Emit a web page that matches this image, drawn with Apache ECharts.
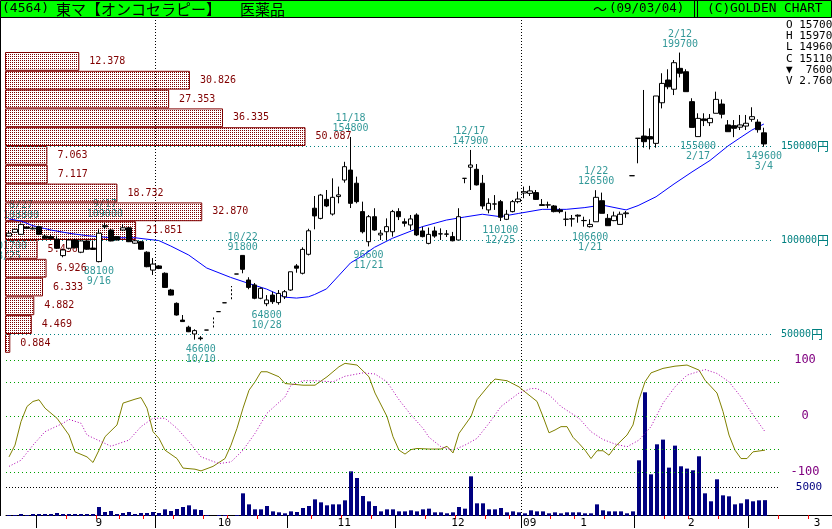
<!DOCTYPE html>
<html>
<head>
<meta charset="utf-8">
<script src="https://cdn.jsdelivr.net/npm/echarts@6/dist/echarts.min.js"></script>
<style>
  html, body { margin: 0; padding: 0; background: #fff; }
  #chart { width: 832px; height: 529px; }
</style>
</head>
<body>
<div id="chart"></div>
<script>
// ---- trading days (Tokyo, Mothers) ----
const dates = [
  '2008-08-25','2008-08-26','2008-08-27','2008-08-28','2008-08-29',
  '2008-09-01','2008-09-02','2008-09-03','2008-09-04','2008-09-05','2008-09-08','2008-09-09','2008-09-10','2008-09-11','2008-09-12',
  '2008-09-16','2008-09-17','2008-09-18','2008-09-19','2008-09-22','2008-09-24','2008-09-25','2008-09-26','2008-09-29','2008-09-30',
  '2008-10-01','2008-10-02','2008-10-03','2008-10-06','2008-10-07','2008-10-08','2008-10-09','2008-10-10','2008-10-14','2008-10-15',
  '2008-10-16','2008-10-17','2008-10-20','2008-10-21','2008-10-22','2008-10-23','2008-10-24','2008-10-27','2008-10-28','2008-10-29',
  '2008-10-30','2008-10-31',
  '2008-11-04','2008-11-05','2008-11-06','2008-11-07','2008-11-10','2008-11-11','2008-11-12','2008-11-13','2008-11-14','2008-11-17',
  '2008-11-18','2008-11-19','2008-11-20','2008-11-21','2008-11-25','2008-11-26','2008-11-27','2008-11-28',
  '2008-12-01','2008-12-02','2008-12-03','2008-12-04','2008-12-05','2008-12-08','2008-12-09','2008-12-10','2008-12-11','2008-12-12',
  '2008-12-15','2008-12-16','2008-12-17','2008-12-18','2008-12-19','2008-12-22','2008-12-24','2008-12-25','2008-12-26','2008-12-29',
  '2008-12-30',
  '2009-01-05','2009-01-06','2009-01-07','2009-01-08','2009-01-09','2009-01-13','2009-01-14','2009-01-15','2009-01-16','2009-01-19',
  '2009-01-20','2009-01-21','2009-01-22','2009-01-23','2009-01-26','2009-01-27','2009-01-28','2009-01-29','2009-01-30',
  '2009-02-02','2009-02-03','2009-02-04','2009-02-05','2009-02-06','2009-02-09','2009-02-10','2009-02-12','2009-02-13','2009-02-16',
  '2009-02-17','2009-02-18','2009-02-19','2009-02-20','2009-02-23','2009-02-24','2009-02-25','2009-02-26','2009-02-27',
  '2009-03-02','2009-03-03','2009-03-04'
];
// empty days kept on the time axis after the last session
const futureDates = ['2009-03-05','2009-03-06','2009-03-09','2009-03-10','2009-03-11','2009-03-12','2009-03-13',
  '2009-03-16','2009-03-17','2009-03-18','2009-03-19'];

// ---- daily prices (yen); null = no trade, only a quote ----
const open = [102100,104100,103000,106900,105900,107100,102100,101800,100400,91700,
  95600,100000,93500,99500,95700,88500,107600,105300,101800,105300,
  106500,98300,99100,93500,84000,86200,82300,73400,66300,57400,
  53600,50000,47900,52100,null,61900,66600,null,81900,91800,
  78700,76100,69000,66100,70700,66700,69800,73400,86200,82300,
  92400,116900,111500,121600,113800,123100,131900,137200,130200,115100,
  99100,112400,102700,104400,104400,115100,109700,108000,113300,104800,
  98200,104800,103200,103200,101800,100000,132800,138700,137600,130200,
  116000,119100,120400,111000,115100,120400,125000,124800,125200,118800,
  118600,118100,116000,111000,111200,113200,110300,107100,109700,120900,
  111500,110300,108300,114000,134200,154100,155300,155000,151400,173000,
  185100,180200,191300,189500,173600,155000,164400,162400,167400,172300,
  161200,160800,160000,160600,164200,162700,157000];
const high = [104800,105900,108800,107400,107000,107600,103100,102900,102300,95400,
  100500,100600,100000,99900,99800,105700,109000,105800,102000,108300,
  107000,100000,99500,94000,90400,86600,82800,74000,66800,60100,
  54400,52500,48900,52100,null,61900,66600,null,81900,91800,
  80200,77100,74800,70700,72500,73400,73400,83100,87200,96100,
  106000,123400,124500,126600,132800,128400,141600,154800,133700,120400,
  113300,116900,105300,111500,116000,116900,111500,113300,114200,107100,
  106600,107100,106200,105300,104300,116900,132800,147900,140400,134600,
  122200,123900,121300,116000,121300,125700,128400,128800,126600,121800,
  120400,118600,116900,115100,113300,113600,112400,111000,126500,125200,
  113800,115100,115100,115400,134200,154100,179800,159400,176600,188700,
  190800,195700,199700,190800,175400,167400,167400,167000,178900,174800,
  163800,163800,166500,166500,170600,164200,159700];
const low = [101700,103900,102800,105800,105600,102600,100600,100500,95200,90800,
  95000,95500,93000,94800,94700,88100,105800,99300,99800,104800,
  98900,98000,94800,85500,81400,84500,74600,70500,59800,56400,
  51000,47000,46600,52100,null,61900,66600,null,81900,82300,
  73800,68500,68500,64800,66000,65600,68600,73000,82600,81700,
  91800,105700,111000,117500,113000,119500,130500,117000,119500,103500,
  96600,104900,100000,100000,101800,110600,107100,105300,102100,101400,
  97700,101200,100000,101600,99300,100000,130200,126600,129000,116400,
  114200,116000,110100,110600,114700,119500,122200,123400,121300,118100,
  116900,114700,114200,107400,107100,109200,107100,106600,109700,114200,
  107600,110000,108300,111800,134200,140800,149100,148200,149100,170000,
  180200,177100,186500,178900,159900,155000,160600,160600,167400,164700,
  157600,154700,158500,158500,162900,157100,149600];
const close = [103600,105700,108300,106200,106300,103000,100900,100700,95600,94700,
  100000,95900,99500,95100,95000,103600,107000,99500,100000,106500,
  99100,99600,95100,85800,87200,84900,74800,70700,60100,56600,
  51200,51800,47500,52100,null,61900,66600,null,81900,84400,
  74800,69000,74300,68100,67200,71600,72500,83100,85000,95000,
  104900,112800,123900,118100,122700,124000,139000,119500,120400,104400,
  112400,105300,103600,107100,115100,112400,108900,111200,102700,101800,
  103000,102100,103300,103100,99600,112400,132800,139900,129300,118100,
  119500,119200,112100,113700,120400,121800,125700,126100,121600,118400,
  118700,115100,115100,111100,111300,112700,110400,108300,122700,114200,
  107600,112800,113700,114400,134200,154100,152300,153700,176600,183300,
  181500,194300,188700,178900,159900,164700,163500,164700,174800,166900,
  157600,159400,161200,162100,165600,158700,151100];
// quote-only sessions: [date, lowest quote, highest quote]
const quoteOnly = [['2008-10-15', 53500, 59500], ['2008-10-20', 68500, 75500]];

// ---- daily volume (shares) ----
const volume = [170,170,350,170,350,350,350,350,520,350,
  350,350,350,350,350,1570,700,870,350,520,
  700,350,520,520,700,520,1160,870,1220,1570,
  1860,1160,1050,170,0,170,170,0,170,3950,
  2030,1160,1160,1740,810,640,470,810,700,1390,
  1740,2900,2380,1860,2030,2030,2730,7780,6620,3480,
  2550,1740,810,1160,1160,810,810,990,810,1160,
  1280,640,640,470,640,1570,1280,6910,2210,2210,
  1160,1160,1390,640,810,640,470,990,810,810,
  470,640,470,640,640,640,470,470,2030,990,
  810,810,810,470,810,9700,21550,7260,12490,13310,
  8430,12260,8660,8260,7960,10400,3950,2560,6390,3600,
  3430,2030,2210,2910,2560,2730,2760];

// ---- moving average, read as [day index, yen] ----
const maLine = [[0,111200],[2,110100],[4,107600],[7,105300],[10,103600],[13,102300],[17,101200],[21,101200],
  [25,99700],[27,96800],[30,92000],[33,85100],[37,80100],[40,76900],[43,73900],[46,69600],[48,69100],
  [50,69800],[51,71000],[53,74000],[55,80900],[57,87800],[59,91600],[61,96100],[64,100900],[69,107100],
  [73,110600],[76,112200],[79,113700],[82,112400],[85,114100],[89,116300],[93,116300],[96,117200],
  [99,118600],[103,116000],[105,118300],[108,123000],[111,129800],[114,136200],[117,142300],[120,150000],
  [122,154300],[124,158500],[126,161700]];

// ---- oscillator pair (-100..100), [day index, value] ----
const oscFast = [[0,-73],[1,-52],[2,-10],[3,17],[4,26],[5,29],[6,14],[8,-4],[10,-34],[11,-64],[13,-73],[14,-83],
  [15,-61],[16,-37],[18,-16],[19,23],[21,30],[22,33],[23,14],[24,-28],[25,-40],[26,-61],[28,-76],[29,-93],
  [31,-95],[32,-98],[34,-90],[36,-76],[37,-52],[38,-22],[39,14],[40,46],[41,61],[42,79],[43,79],[45,70],
  [46,58],[49,55],[51,55],[53,70],[55,88],[56,94],[58,91],[60,70],[61,41],[63,-1],[64,-37],[65,-61],
  [66,-68],[67,-60],[68,-58],[70,-59],[72,-59],[73,-54],[74,-66],[75,-31],[77,-1],[78,29],[80,55],[81,66],
  [83,63],[85,52],[86,43],[88,26],[89,-1],[90,-30],[91,-25],[92,-19],[93,-19],[94,-38],[95,-49],[96,-61],
  [97,-76],[98,-62],[99,-62],[100,-70],[101,-55],[103,-34],[104,-16],[105,29],[106,61],[107,77],[109,85],
  [111,89],[113,91],[115,82],[116,64],[118,41],[119,8],[120,-34],[121,-61],[122,-76],[123,-76],[124,-64],
  [126,-61]];
const oscSlow = [[0,-90],[2,-79],[4,-52],[6,-28],[9,-13],[10,-6],[12,-13],[13,-34],[16,-49],[17,-54],[20,-43],
  [22,-19],[24,-4],[26,-4],[28,-22],[30,-46],[32,-73],[35,-85],[37,-82],[39,-61],[41,-31],[43,5],[46,34],
  [47,55],[49,63],[51,63],[54,61],[56,71],[59,77],[61,75],[63,61],[65,29],[67,2],[69,-22],[70,-38],[72,-55],
  [74,-61],[76,-52],[78,-40],[80,-13],[82,17],[85,41],[87,49],[88,49],[90,38],[92,17],[95,-4],[97,-28],
  [99,-42],[101,-50],[103,-55],[105,-43],[107,-19],[109,23],[111,52],[113,73],[116,83],[118,76],[120,61],
  [122,34],[124,2],[126,-28]];
const oscLevels = [100, 60, 0, -60, -100];

// ---- volume by price (16 bands of 10,000 yen, top to bottom) ----
const profileBands = ['190000-200000','180000-190000','170000-180000','160000-170000','150000-160000',
  '140000-150000','130000-140000','120000-130000','110000-120000','100000-110000','90000-100000',
  '80000-90000','70000-80000','60000-70000','50000-60000','40000-50000'];
const profileValues = [12.378,30.826,27.353,36.335,50.087,7.063,7.117,18.732,32.870,21.851,5.436,6.926,6.333,4.882,4.469,0.884];

// ---- labelled swing points ----
const highMarks = ['2008-08-27','2008-09-17','2008-10-22','2008-11-18','2008-12-17','2009-01-22','2009-02-12'];
const lowMarks = ['2008-08-25','2008-09-16','2008-10-10','2008-10-28','2008-11-21','2008-12-25','2009-01-21','2009-02-17','2009-03-04'];

// ---- time axis labels ----
const monthLabels = {'2008-09-16':'9','2008-10-17':'10','2008-11-17':'11','2008-12-15':'12',
  '2009-01-06':'09','2009-01-20':'1','2009-02-16':'2','2009-03-17':'3'};
const priceLabels = [50000, 100000, 150000];

// ---------------------------------------------------------------
const allDates = dates.concat(futureDates);
const mono = '"DejaVu Sans Mono", "Liberation Mono", monospace';
const cjk = '"Noto Sans CJK JP", "Noto Sans CJK SC", sans-serif';
const TEAL = '#008080';

const dow = s => new Date(s + 'T00:00:00Z').getUTCDay();
const mon = s => +s.slice(5, 7);
const isMonthStart = i => i > 0 && mon(allDates[i]) !== mon(allDates[i - 1]);
const isQuarterStart = i => isMonthStart(i) && [1, 4, 7, 10].includes(mon(allDates[i]));
const isWeekStart = i => i > 0 && i < allDates.length && dow(allDates[i]) < dow(allDates[i - 1]) && !isMonthStart(i);
const md = s => (+s.slice(5, 7)) + '/' + (+s.slice(8, 10));

const candles = dates.map((d, i) => open[i] == null ? '-' : [open[i], close[i], low[i], high[i]]);

const marks = [];
highMarks.forEach(d => {
  const i = dates.indexOf(d);
  marks.push({ value: [d, high[i]], label: { position: 'top', distance: 3, formatter: md(d) + '\n' + high[i] } });
});
lowMarks.forEach(d => {
  const i = dates.indexOf(d);
  marks.push({ value: [d, low[i]], label: { position: 'bottom', distance: 4, formatter: low[i] + '\n' + md(d) } });
});

// dotted fill for the price-volume bars
const dot = document.createElement('canvas');
dot.width = 2; dot.height = 2;
const g = dot.getContext('2d');
g.fillStyle = '#800000';
g.fillRect(0, 0, 1, 1);

// price scale: 50,000 yen per 94 px, 100,000 yen at y = 240
const PX = 94 / 50000;
const priceTop = 240 - (220000 - 100000) * PX;
const priceHeight = (220000 - 40000) * PX;
const bandTop = 240 - (200000 - 100000) * PX;
const bandHeight = (200000 - 40000) * PX;

const last = dates.length - 1;
const diff = close[last] - close[last - 1];
const infoRows = [
  'O ' + open[last], 'H ' + high[last], 'L ' + low[last], 'C ' + close[last],
  (diff < 0 ? '▼' : '▲') + '  ' + Math.abs(diff),
  'V ' + (volume[last] / 1000).toFixed(3)
];

const hidden = { show: false };
const graphics = [
  { type: 'rect', z: 50, shape: { x: 0.5, y: 0.5, width: 831, height: 17 }, style: { fill: '#00ff00', stroke: '#000', lineWidth: 1 } },
  { type: 'line', z: 51, shape: { x1: 694.5, y1: 0, x2: 694.5, y2: 17 }, style: { stroke: '#000', lineWidth: 1 } },
  { type: 'line', z: 51, shape: { x1: 697.5, y1: 0, x2: 697.5, y2: 17 }, style: { stroke: '#000', lineWidth: 1 } },
  { type: 'line', z: 51, shape: { x1: 0.5, y1: 17, x2: 0.5, y2: 516 }, style: { stroke: '#000', lineWidth: 1 } },
  { type: 'text', z: 52, x: 2, y: 9, style: { text: '(4564)', font: '13px ' + mono, fill: '#000', verticalAlign: 'middle' } },
  { type: 'text', z: 52, x: 56, y: 9, style: { text: '東マ【オンコセラピー】', font: '15px ' + cjk, fill: '#000', verticalAlign: 'middle' } },
  { type: 'text', z: 52, x: 240, y: 9, style: { text: '医薬品', font: '15px ' + cjk, fill: '#000', verticalAlign: 'middle' } },
  { type: 'text', z: 52, x: 593, y: 9, style: { text: '〜', font: '14px ' + cjk, fill: '#000', verticalAlign: 'middle' } },
  { type: 'text', z: 52, x: 609, y: 9, style: { text: '(09/03/04)', font: '12.5px ' + mono, fill: '#000', verticalAlign: 'middle' } },
  { type: 'text', z: 52, x: 707, y: 9, style: { text: '(C)GOLDEN CHART', font: '12.8px ' + mono, fill: '#000', verticalAlign: 'middle' } }
];
infoRows.forEach((t, k) => {
  graphics.push({ type: 'text', z: 52, x: 786, y: 25 + k * 11.3,
    style: { text: t, font: '11px ' + mono, fill: '#000', verticalAlign: 'middle' } });
});

const option = {
  animation: false,
  backgroundColor: '#fff',
  grid: [
    { left: 6, top: priceTop, width: 768, height: priceHeight },   // prices
    { left: 5, top: bandTop, width: 600, height: bandHeight },     // volume by price
    { left: 6, top: 360, width: 774, height: 112 },                // oscillator
    { left: 6, top: 516 - 25000 * 28.7 / 5000, width: 774, height: 25000 * 28.7 / 5000 }, // volume
    { left: 6, top: 17, width: 828, height: 499 }                  // time axis frame
  ],
  xAxis: [
    { gridIndex: 0, type: 'category', data: allDates.slice(0, 128), show: false },
    { gridIndex: 1, type: 'value', min: 0, max: 100, show: false },
    { gridIndex: 2, type: 'category', data: allDates.slice(0, 129), show: false },
    { gridIndex: 3, type: 'category', data: allDates.slice(0, 129), show: false },
    { gridIndex: 4, type: 'category', data: allDates, position: 'bottom',
      axisLine: { show: true, onZero: false, lineStyle: { color: '#000', width: 1 } },
      axisTick: { show: true, interval: i => isMonthStart(i), length: 13, lineStyle: { color: '#000', width: 1 } },
      axisLabel: { show: true, interval: (i, v) => v in monthLabels, formatter: v => monthLabels[v] || '',
        color: '#000', fontFamily: mono, fontSize: 11, margin: 3, hideOverlap: false },
      splitLine: { show: true, interval: i => isQuarterStart(i), lineStyle: { color: '#000', width: 1, type: [1, 2] } } },
    { gridIndex: 4, type: 'category', data: allDates, position: 'bottom',
      axisLine: { show: false, onZero: false },
      axisTick: { show: true, interval: i => isWeekStart(i), length: 4, lineStyle: { color: '#ff0000', width: 1 } },
      axisLabel: { show: false }, splitLine: { show: false } }
  ],
  yAxis: [
    { gridIndex: 0, type: 'value', min: 40000, max: 220000, interval: 10000, position: 'right',
      axisLine: hidden, axisTick: hidden, splitLine: hidden,
      axisLabel: { show: true, margin: 8, align: 'left', hideOverlap: false,
        formatter: v => priceLabels.includes(v) ? '{n|' + v + '}{u|円}' : '',
        rich: { n: { fontFamily: mono, fontSize: 10, color: TEAL }, u: { fontFamily: cjk, fontSize: 12, color: TEAL } } } },
    { gridIndex: 1, type: 'category', data: profileBands, inverse: true, show: false },
    { gridIndex: 2, type: 'value', min: -100, max: 100, interval: 100, position: 'right',
      axisLine: hidden, axisTick: hidden, splitLine: hidden,
      axisLabel: { show: true, margin: 25, align: 'center', color: '#800080', fontFamily: mono, fontSize: 12, hideOverlap: false } },
    { gridIndex: 3, type: 'value', min: 0, max: 25000, interval: 5000, position: 'right',
      axisLine: hidden, axisTick: hidden, splitLine: hidden,
      axisLabel: { show: true, margin: 29, align: 'center', color: '#000080', fontFamily: mono, fontSize: 11, hideOverlap: false,
        formatter: v => v === 5000 ? '5000' : '' } },
    { gridIndex: 4, type: 'value', min: 0, max: 1, show: false }
  ],
  series: [
    { // volume by price
      type: 'bar', xAxisIndex: 1, yAxisIndex: 1, z: 3,
      data: profileValues, barCategoryGap: 0, barWidth: '100%',
      itemStyle: { color: { image: dot, repeat: 'repeat' }, borderColor: '#800000', borderWidth: 1 },
      label: { show: true, position: 'right', distance: 10, color: '#800000', fontFamily: mono, fontSize: 10,
        formatter: p => p.value.toFixed(3) },
      silent: true
    },
    { // swing labels
      type: 'scatter', xAxisIndex: 0, yAxisIndex: 0, z: 2, symbolSize: 1,
      itemStyle: { color: 'rgba(0,0,0,0)' },
      label: { show: true, color: TEAL, fontFamily: mono, fontSize: 10, lineHeight: 10, align: 'center' },
      labelLayout: { hideOverlap: false },
      data: marks, silent: true
    },
    { // daily candles
      type: 'candlestick', xAxisIndex: 0, yAxisIndex: 0, z: 5, barWidth: 5,
      data: candles,
      itemStyle: { color: '#fff', color0: '#000', borderColor: '#000', borderColor0: '#000', borderColorDoji: '#000', borderWidth: 1 },
      markLine: { silent: true, symbol: ['none', 'none'], label: { show: false },
        lineStyle: { color: TEAL, width: 1, type: [1, 3] },
        data: priceLabels.map(v => ({ yAxis: v })) }
    },
    { // quote-only sessions
      type: 'custom', xAxisIndex: 0, yAxisIndex: 0, z: 5, silent: true,
      data: quoteOnly,
      renderItem: (params, api) => {
        const x = api.value(0);
        const a = api.coord([x, api.value(1)]);
        const b = api.coord([x, api.value(2)]);
        const cx = Math.round(a[0]) + 0.5;
        return { type: 'line', shape: { x1: cx, y1: a[1], x2: cx, y2: b[1] },
          style: { stroke: '#000', lineWidth: 1, lineDash: [2, 2] } };
      }
    },
    { // moving average
      type: 'line', xAxisIndex: 0, yAxisIndex: 0, z: 4, data: maLine, symbol: 'none', silent: true,
      lineStyle: { color: '#0000ff', width: 1 }
    },
    {
      type: 'line', xAxisIndex: 2, yAxisIndex: 2, z: 4, data: oscFast, symbol: 'none', silent: true,
      lineStyle: { color: '#808000', width: 1 },
      markLine: { silent: true, symbol: ['none', 'none'], label: { show: false },
        lineStyle: { color: '#00a000', width: 1, type: [1, 3] },
        data: oscLevels.map(v => ({ yAxis: v })) }
    },
    {
      type: 'line', xAxisIndex: 2, yAxisIndex: 2, z: 4, data: oscSlow, symbol: 'none', silent: true,
      lineStyle: { color: '#b000b0', width: 1, type: [1, 2] }
    },
    { // daily volume
      type: 'bar', xAxisIndex: 3, yAxisIndex: 3, z: 3, data: volume, barWidth: 4, silent: true,
      itemStyle: { color: '#000080' },
      markLine: { silent: true, symbol: ['none', 'none'], label: { show: false },
        lineStyle: { color: '#000', width: 1, type: [1, 2] },
        data: [{ yAxis: 5000 }] }
    }
  ],
  graphic: graphics
};

const chart = echarts.init(document.getElementById('chart'), null, { renderer: 'canvas' });
chart.setOption(option);
</script>
</body>
</html>
